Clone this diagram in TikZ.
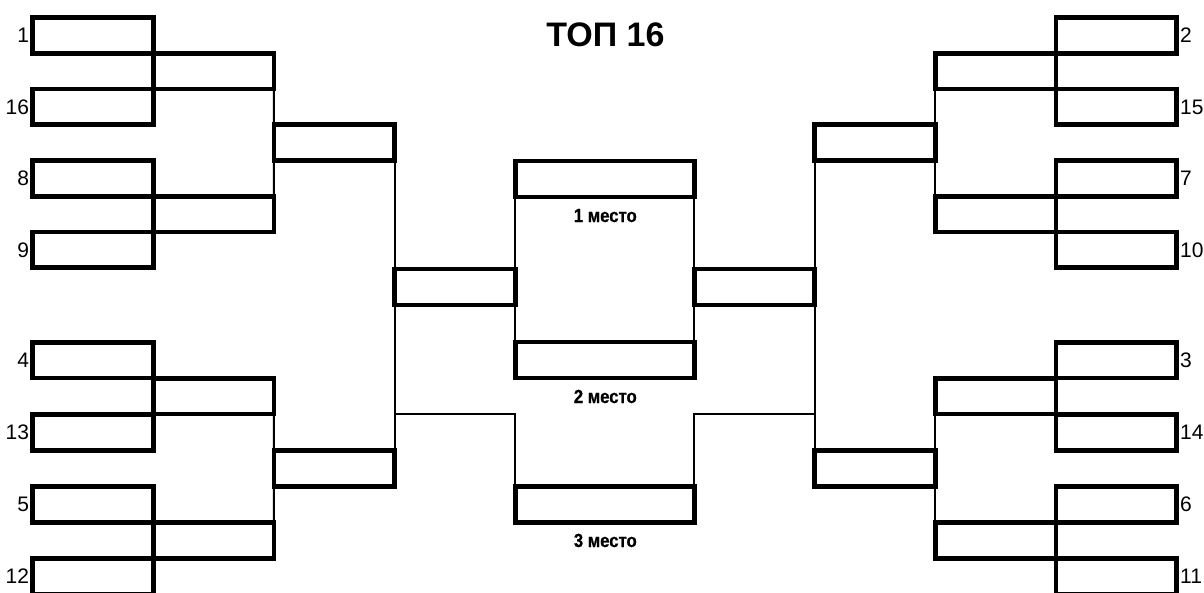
\documentclass[tikz,border=0pt]{standalone}
\usepackage{fontspec}
\setmainfont{Liberation Sans}
\newfontfamily\narrowfont[FakeStretch=0.88,FakeBold=0.6]{Liberation Sans}
\begin{document}
\begin{tikzpicture}[x=1pt,y=-1pt,
  box/.style={draw,line width=4.8pt,minimum width=120.6pt,minimum height=35.8pt,inner sep=0pt,outer sep=0pt},
  bigbox/.style={box,minimum width=179pt,minimum height=36pt},
  thinline/.style={line width=2pt},
  seedL/.style={anchor=east,inner sep=0pt,font=\fontsize{21}{21}\selectfont},
  seedR/.style={anchor=west,inner sep=0pt,font=\fontsize{21}{21}\selectfont},
  place/.style={anchor=base,inner sep=0pt,font=\narrowfont\bfseries\fontsize{19}{19}\selectfont}]
\useasboundingbox (0,0) rectangle (1204,592);
\fill[white] (0,0) rectangle (1204,592);
\clip (0,0) rectangle (1204,592);

% title
\node[anchor=base,inner sep=0pt,font=\bfseries\fontsize{34}{34}\selectfont] (title) at (605.5,46.7) {ТОП 16};

% left round 1
\node[box] (b1)  at (93,35.4) {};
\node[box] (b16) at (93,106.9) {};
\node[box] (b8)  at (93,178.4) {};
\node[box] (b9)  at (93,249.9) {};
\node[box] (b4)  at (93,360.05) {};
\node[box] (b13) at (93,432.25) {};
\node[box] (b5)  at (93,504.45) {};
\node[box] (b12) at (93,576.65) {};
% left round 2
\node[box] (la) at (213.6,71.1) {};
\node[box] (lb) at (213.6,214.1) {};
\node[box] (lc) at (213.6,396.15) {};
\node[box] (ld) at (213.6,540.55) {};
% left round 3
\node[box] (lq1) at (334.2,142.6) {};
\node[box] (lq2) at (334.2,468.35) {};
% left semi
\node[box,minimum height=36pt] (ls) at (454.8,287) {};
% center
\node[bigbox] (f1) at (604.6,179) {};
\node[bigbox] (f2) at (604.6,360) {};
\node[bigbox] (f3) at (604.6,504.45) {};
% right semi
\node[box,minimum height=36pt] (rs) at (754.4,287) {};
% right round 3
\node[box] (rq1) at (875,142.6) {};
\node[box] (rq2) at (875,468.35) {};
% right round 2
\node[box] (ra) at (995.6,71.1) {};
\node[box] (rb) at (995.6,214.1) {};
\node[box] (rc) at (995.6,396.15) {};
\node[box] (rd) at (995.6,540.55) {};
% right round 1
\node[box] (b2)  at (1116.2,35.4) {};
\node[box] (b15) at (1116.2,106.9) {};
\node[box] (b7)  at (1116.2,178.4) {};
\node[box] (b10) at (1116.2,249.9) {};
\node[box] (b3)  at (1116.2,360.05) {};
\node[box] (b14) at (1116.2,432.25) {};
\node[box] (b6)  at (1116.2,504.45) {};
\node[box] (b11) at (1116.2,576.65) {};

% seeds
\node[seedL] (s1)  at ([xshift=-3.5pt]b1.west) {1};
\node[seedL] (s16) at ([xshift=-3.5pt]b16.west) {16};
\node[seedL] (s8)  at ([xshift=-3.5pt]b8.west) {8};
\node[seedL] (s9)  at ([xshift=-3.5pt]b9.west) {9};
\node[seedL] (s4)  at ([xshift=-3.5pt]b4.west) {4};
\node[seedL] (s13) at ([xshift=-3.5pt]b13.west) {13};
\node[seedL] (s5)  at ([xshift=-3.5pt]b5.west) {5};
\node[seedL] (s12) at ([xshift=-3.5pt]b12.west) {12};
\node[seedR] (s2)  at ([xshift=3.5pt]b2.east) {2};
\node[seedR] (s15) at ([xshift=3.5pt]b15.east) {15};
\node[seedR] (s7)  at ([xshift=3.5pt]b7.east) {7};
\node[seedR] (s10) at ([xshift=3.5pt]b10.east) {10};
\node[seedR] (s3)  at ([xshift=3.5pt]b3.east) {3};
\node[seedR] (s14) at ([xshift=3.5pt]b14.east) {14};
\node[seedR] (s6)  at ([xshift=3.5pt]b6.east) {6};
\node[seedR] (s11) at ([xshift=3.5pt]b11.east) {11};

% place labels
\node[place] (p1) at (605.3,222) {1 место};
\node[place] (p2) at (605.3,403) {2 место};
\node[place] (p3) at (605.3,547) {3 место};

% thin connectors, left
\draw[thinline] (la.south east) -- (lq1.north west);
\draw[thinline] (lq1.south west) -- (lb.north east);
\draw[thinline] (lc.south east) -- (lq2.north west);
\draw[thinline] (lq2.south west) -- (ld.north east);
\draw[thinline] (lq1.south east) -- (ls.north west);
\draw[thinline] (ls.south west) -- (lq2.north east);
\coordinate (jl) at (394.5,414.2);
\draw[thinline] (jl) -| (f3.north west);
% center
\draw[thinline] (f1.south west) -- (f2.north west);
\draw[thinline] (f1.south east) -- (f2.north east);
% right
\draw[thinline] (ra.south west) -- (rq1.north east);
\draw[thinline] (rq1.south east) -- (rb.north west);
\draw[thinline] (rc.south west) -- (rq2.north east);
\draw[thinline] (rq2.south east) -- (rd.north west);
\draw[thinline] (rq1.south west) -- (rs.north east);
\draw[thinline] (rs.south east) -- (rq2.north west);
\coordinate (jr) at (814.7,414.2);
\draw[thinline] (jr) -| (f3.north east);
\end{tikzpicture}
\end{document}
